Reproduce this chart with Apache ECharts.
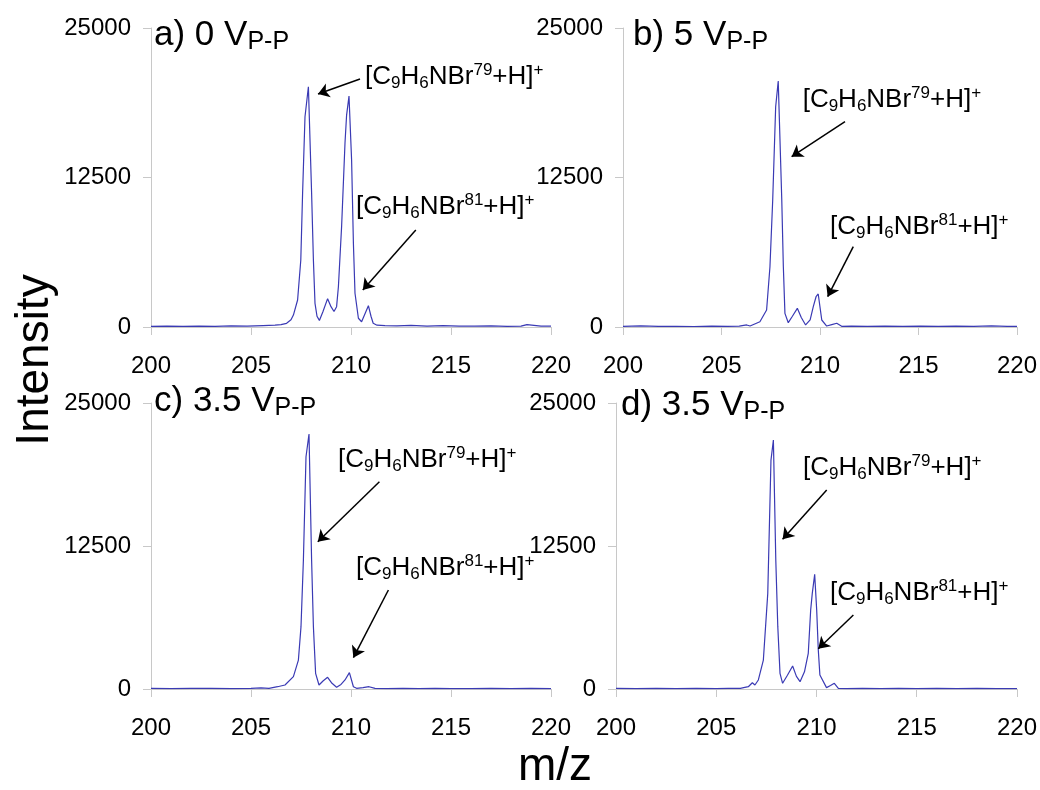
<!DOCTYPE html>
<html>
<head>
<meta charset="utf-8">
<script src="https://cdn.jsdelivr.net/npm/echarts@6/dist/echarts.min.js"></script>
<style>
  html, body { margin: 0; padding: 0; background: #fff; }
  #main { width: 1040px; height: 790px; }
</style>
</head>
<body>
<div id="main"></div>
<script>
// ---- spectra (m/z, intensity) ----
var mzA = [200, 200.8, 201.6, 202.4, 203.2, 204, 204.8, 205.6, 206.2, 206.5, 206.78, 207.0, 207.12, 207.33, 207.49, 207.58, 207.7, 207.87, 208.03, 208.12, 208.2, 208.3, 208.42, 208.6, 208.83, 209.0, 209.15, 209.28, 209.37, 209.53, 209.7, 209.78, 209.9, 210.03, 210.12, 210.2, 210.37, 210.53, 210.7, 210.87, 211.0, 211.11, 211.3, 211.7, 212.3, 213, 213.8, 214.6, 215.4, 216.2, 217.0, 217.8, 218.5, 218.8, 219.5, 220];
var intA = [60, 70, 50, 80, 60, 90, 70, 120, 150, 200, 310, 600, 1000, 2260, 5600, 11200, 17580, 20090, 11200, 5600, 1980, 900, 550, 1300, 2370, 1700, 1300, 1700, 3370, 8390, 15380, 17720, 19310, 13960, 7000, 2820, 730, 440, 1100, 1780, 900, 310, 150, 120, 90, 130, 80, 110, 80, 70, 90, 60, 80, 200, 70, 80];

var mzB = [200, 200.9, 201.8, 202.7, 203.6, 204.5, 205.3, 205.9, 206.28, 206.45, 206.95, 207.29, 207.46, 207.6, 207.75, 207.88, 208.06, 208.14, 208.22, 208.39, 208.6, 208.85, 209.05, 209.27, 209.5, 209.66, 209.8, 209.91, 210.09, 210.34, 210.6, 210.85, 211.1, 211.6, 212.4, 213.3, 214.2, 215.1, 216, 216.9, 217.8, 218.7, 219.5, 220];
var intB = [60, 90, 50, 60, 40, 70, 60, 80, 170, 80, 440, 1420, 5040, 10620, 18420, 20570, 10620, 5040, 1140, 360, 900, 1560, 800, 170, 600, 1700, 2530, 2760, 585, 80, 200, 310, 60, 70, 60, 80, 50, 70, 60, 80, 60, 90, 50, 60];

var mzC = [200, 201, 202, 203, 204, 205, 205.5, 205.9, 206.33, 206.7, 207.12, 207.37, 207.5, 207.62, 207.75, 207.9, 208.03, 208.12, 208.23, 208.4, 208.6, 208.83, 209.05, 209.28, 209.5, 209.7, 209.92, 210.12, 210.28, 210.6, 210.9, 211.2, 211.8, 212.6, 213.4, 214.2, 215, 216, 217, 218, 219, 220];
var intC = [50, 40, 60, 50, 40, 60, 100, 60, 200, 350, 1080, 2530, 5450, 11270, 20300, 22290, 11270, 5450, 1370, 350, 700, 1020, 500, 150, 400, 790, 1430, 200, 60, 120, 200, 50, 40, 50, 40, 50, 40, 40, 50, 40, 50, 40];

var mzD = [200, 201, 202, 203, 204, 205, 205.6, 206.2, 206.6, 206.8, 206.93, 207.1, 207.35, 207.57, 207.73, 207.85, 207.97, 208.07, 208.18, 208.31, 208.55, 208.81, 209.0, 209.18, 209.4, 209.59, 209.71, 209.79, 209.91, 210.01, 210.09, 210.17, 210.5, 210.7, 210.89, 211.09, 211.5, 212.3, 213.2, 214.1, 215, 216, 217, 218, 219, 220];
var intD = [50, 40, 50, 40, 50, 40, 60, 60, 200, 550, 350, 790, 2530, 8360, 20010, 21760, 11270, 5450, 1370, 500, 1200, 2010, 1100, 640, 1500, 3120, 6900, 8360, 10020, 6900, 3410, 1220, 120, 300, 500, 60, 40, 50, 40, 50, 40, 50, 40, 50, 40, 40];

var xTicks = [200, 205, 210, 215, 220];
var yTicks = [0, 12500, 25000];
var voltages = ['a) 0 ', 'b) 5 ', 'c) 3.5 ', 'd) 3.5 '];

var spectra = [[mzA, intA], [mzB, intB], [mzC, intC], [mzD, intD]];

// layout of the four panels
var grids = [
  { left: 151, top: 28, width: 400, height: 299 },
  { left: 623, top: 28, width: 394, height: 299 },
  { left: 151, top: 403, width: 400, height: 286 },
  { left: 616, top: 403, width: 401, height: 286 }
];
var titlePos = [[154, 15], [633, 15], [154, 381], [621, 385]];

// annotations in data units: label anchor (left-middle), arrow tail, arrow head
var notes = [
  { l79: [210.7, 20930], a79: [[210.45, 20736], [208.35, 19482]], l81: [210.25, 10033], a81: [[213.24, 8110], [210.59, 3094]] },
  { l79: [209.12, 18980], a79: [[211.27, 17165], [208.56, 14239]], l81: [210.51, 8386], a81: [[211.69, 6714], [210.39, 2533]] },
  { l79: [209.35, 20017], a79: [[211.42, 18121], [208.34, 12876]], l81: [210.25, 10577], a81: [[211.87, 8654], [210.12, 2736]] },
  { l79: [209.33, 19318], a79: [[210.51, 17395], [208.31, 13086]], l81: [210.67, 8392], a81: [[211.84, 6469], [210.09, 3523]] }
];

var FONT = '"Liberation Sans", Arial, sans-serif';
var ionRich = {
  m: { fontSize: 26, lineHeight: 30, color: '#000', fontFamily: FONT },
  s: { fontSize: 17, lineHeight: 14, verticalAlign: 'bottom', color: '#000', fontFamily: FONT },
  u: { fontSize: 17, lineHeight: 22, verticalAlign: 'top', color: '#000', fontFamily: FONT }
};
function ion(iso) {
  return '{m|[C}{s|9}{m|H}{s|6}{m|NBr}{u|' + iso + '}{m|+H]}{u|+}';
}

var chart = echarts.init(document.getElementById('main'));

var option = {
  animation: false,
  backgroundColor: '#fff',
  title: [],
  grid: [],
  xAxis: [],
  yAxis: [],
  series: [],
  graphic: [
    {
      type: 'text', x: 35, y: 360, rotation: Math.PI / 2,
      style: { text: 'Intensity', fontSize: 46, fontFamily: FONT, fill: '#000', align: 'center', verticalAlign: 'middle' }
    },
    {
      type: 'text', x: 555, y: 767,
      style: { text: 'm/z', fontSize: 46, fontFamily: FONT, fill: '#000', align: 'center', verticalAlign: 'middle' }
    }
  ]
};

var axisGrey = '#c8c8c8';

for (var i = 0; i < 4; i++) {
  option.grid.push(grids[i]);

  option.title.push({
    left: titlePos[i][0], top: titlePos[i][1], padding: 0,
    text: '{m|' + voltages[i] + 'V}{s|P-P}',
    textStyle: {
      fontWeight: 'normal',
      rich: {
        m: { fontSize: 35, lineHeight: 40, color: '#000', fontFamily: FONT, fontWeight: 'normal' },
        s: { fontSize: 25, lineHeight: 17, verticalAlign: 'bottom', color: '#000', fontFamily: FONT, fontWeight: 'normal' }
      }
    }
  });

  option.xAxis.push({
    type: 'value', gridIndex: i,
    min: xTicks[0], max: xTicks[xTicks.length - 1], interval: xTicks[1] - xTicks[0],
    axisLine: { show: true, onZero: false, lineStyle: { color: axisGrey, width: 1 } },
    axisTick: { show: true, length: 8, lineStyle: { color: axisGrey } },
    axisLabel: { margin: 27, fontSize: 24, color: '#000', fontFamily: FONT },
    splitLine: { show: false }
  });

  option.yAxis.push({
    type: 'value', gridIndex: i,
    min: yTicks[0], max: yTicks[yTicks.length - 1], interval: yTicks[1] - yTicks[0],
    axisLine: { show: true, lineStyle: { color: axisGrey, width: 1 } },
    axisTick: { show: true, length: 8, lineStyle: { color: axisGrey } },
    axisLabel: {
      margin: 20, fontSize: 24, color: '#000', fontFamily: FONT,
      formatter: function (v) { return String(v); }
    },
    splitLine: { show: false }
  });

  var xs = spectra[i][0], ys = spectra[i][1];
  var pts = xs.map(function (x, k) { return [x, ys[k]]; });
  var n = notes[i];

  option.series.push({
    type: 'line',
    xAxisIndex: i, yAxisIndex: i,
    data: pts,
    showSymbol: false,
    symbol: 'none',
    lineStyle: { color: '#3a3ab4', width: 1.2 },
    silent: true,
    markLine: {
      silent: true,
      animation: false,
      symbol: ['none', 'arrow'],
      symbolSize: 11,
      label: { show: false },
      lineStyle: { color: '#000', type: 'solid', width: 1.5 },
      emphasis: { disabled: true },
      data: [
        [{ coord: n.a79[0] }, { coord: n.a79[1] }],
        [{ coord: n.a81[0] }, { coord: n.a81[1] }]
      ]
    },
    markPoint: {
      silent: true,
      animation: false,
      symbol: 'circle',
      symbolSize: 0,
      itemStyle: { color: 'rgba(0,0,0,0)' },
      label: { show: true, position: 'right', distance: 0, rich: ionRich },
      data: [
        { coord: n.l79, label: { formatter: ion('79') } },
        { coord: n.l81, label: { formatter: ion('81') } }
      ]
    }
  });
}

chart.setOption(option);
</script>
</body>
</html>
